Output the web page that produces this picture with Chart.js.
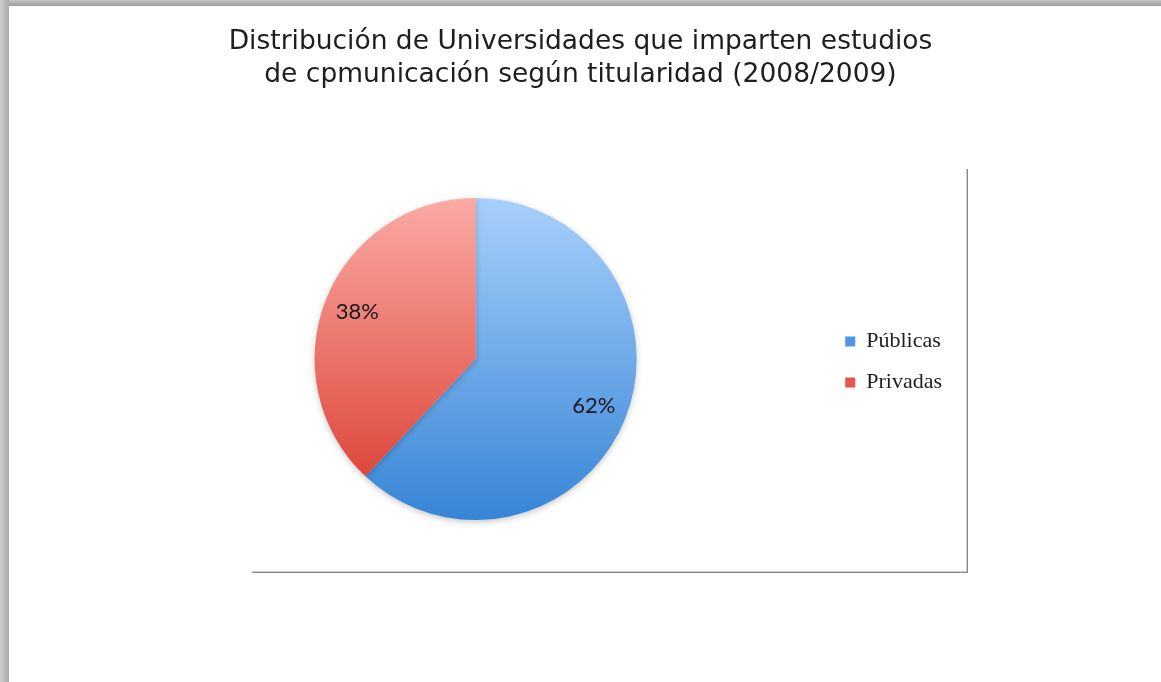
<!DOCTYPE html>
<html>
<head>
<meta charset="utf-8">
<script src="https://cdn.jsdelivr.net/npm/chart.js@4"></script>
<style>
  html, body { margin: 0; padding: 0; background: #ffffff; }
  body { width: 1161px; height: 682px; position: relative; overflow: hidden; }
  #bandTop { position: absolute; left: 0; top: 0; width: 1161px; height: 6px;
    background: linear-gradient(to bottom, #c4c4c4, #9c9c9c); }
  #bandLeft { position: absolute; left: 0; top: 0; width: 9px; height: 682px;
    background: linear-gradient(to right, #cfcfcf, #a9a9a9); }
  #wrap { position: absolute; left: 0; top: 0; width: 1161px; height: 682px; }
</style>
</head>
<body>
<div id="bandTop"></div>
<div id="bandLeft"></div>
<div id="wrap"><canvas id="c" width="1161" height="682"></canvas></div>
<script>
// ---- data ----
const titleLines = ['Distribución de Universidades que imparten estudios', 'de cpmunicación según titularidad (2008/2009)'];
const categories = ['Públicas', 'Privadas'];
const values = [62, 38];
const legendColors = ['#4f97e6', '#e5574c'];
const gradTop = ['#a8cffb', '#fbaaa4'];
const gradBottom = ['#3785d6', '#d8392c'];

function sliceGradient(context) {
  const chart = context.chart;
  const area = chart.chartArea;
  const i = context.dataIndex;
  if (!area) return legendColors[i];
  const g = chart.ctx.createLinearGradient(0, area.top, 0, area.bottom);
  g.addColorStop(0, gradTop[i]);
  g.addColorStop(1, gradBottom[i]);
  return g;
}

const layoutFix = {
  id: 'layoutFix',
  afterLayout(chart) {
    const t = chart.titleBlock;
    if (t) { t.left = 0; t.right = chart.width; t.width = chart.width; }
    const l = chart.legend;
    if (l) { l.top += 3; l.bottom += 3; }
  }
};

const pieShadow = {
  id: 'pieShadow',
  beforeDatasetsDraw(chart) {
    const ctx = chart.ctx;
    ctx.save();
    ctx.shadowColor = 'rgba(0,0,0,0.22)';
    ctx.shadowBlur = 6;
    ctx.shadowOffsetY = 2;
  },
  afterDatasetsDraw(chart) {
    chart.ctx.restore();
  }
};

const sliceLabels = {
  id: 'sliceLabels',
  afterDatasetsDraw(chart) {
    const ctx = chart.ctx;
    const meta = chart.getDatasetMeta(0);
    ctx.save();
    ctx.font = '22px Lato, "Liberation Sans", sans-serif';
    ctx.fillStyle = '#16161f';
    ctx.textAlign = 'center';
    ctx.textBaseline = 'middle';
    meta.data.forEach((arc, i) => {
      const p = arc.getProps(['x', 'y', 'startAngle', 'endAngle', 'outerRadius'], true);
      const mid = (p.startAngle + p.endAngle) / 2;
      const r = p.outerRadius * 0.79;
      ctx.fillText(values[i] + '%', p.x + Math.cos(mid) * r, p.y + Math.sin(mid) * r);
    });
    ctx.restore();
  }
};

const frameLines = {
  id: 'frameLines',
  afterDraw(chart) {
    const ctx = chart.ctx;
    ctx.save();
    ctx.lineWidth = 1;
    ctx.strokeStyle = '#cbcbcb';
    ctx.beginPath();
    ctx.moveTo(966.5, 169); ctx.lineTo(966.5, 572);
    ctx.moveTo(252, 571.5); ctx.lineTo(966, 571.5);
    ctx.stroke();
    ctx.strokeStyle = '#8a8a8a';
    ctx.beginPath();
    ctx.moveTo(967.5, 169); ctx.lineTo(967.5, 573);
    ctx.moveTo(252, 572.5); ctx.lineTo(968, 572.5);
    ctx.stroke();
    ctx.restore();
  }
};

new Chart(document.getElementById('c'), {
  type: 'pie',
  data: {
    labels: categories,
    datasets: [{
      data: values,
      backgroundColor: sliceGradient,
      borderWidth: 0,
      hoverOffset: 0
    }]
  },
  options: {
    responsive: false,
    animation: false,
    events: [],
    layout: { padding: { left: 125, right: 209, top: 0, bottom: 162 } },
    plugins: {
      title: {
        display: true,
        text: titleLines,
        color: '#1e1e1e',
        font: { family: '"DejaVu Sans", Verdana, sans-serif', size: 26.5, weight: 'normal', lineHeight: 1.245 },
        padding: { top: 26, bottom: 106 }
      },
      legend: {
        display: true,
        position: 'right',
        fullSize: false,
        labels: {
          color: '#1e1e1e',
          font: { family: '"Liberation Serif", "Times New Roman", serif', size: 22 },
          boxWidth: 10,
          boxHeight: 10,
          padding: 19,
          generateLabels(chart) {
            const items = Chart.overrides.pie.plugins.legend.labels.generateLabels(chart);
            items.forEach((it, i) => { it.fillStyle = legendColors[i]; it.strokeStyle = legendColors[i]; it.lineWidth = 0; });
            return items;
          }
        }
      },
      tooltip: { enabled: false }
    }
  },
  plugins: [layoutFix, pieShadow, sliceLabels, frameLines]
});
</script>
</body>
</html>
